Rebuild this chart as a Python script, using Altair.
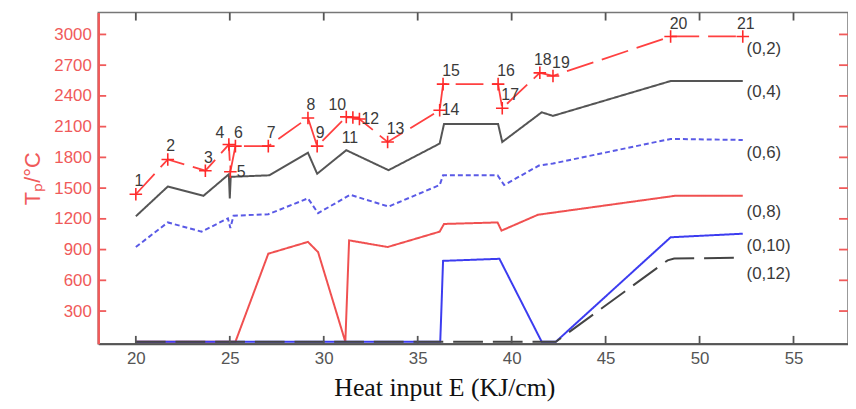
import altair as alt
import pandas as pd

# ---------------- data ----------------
x_ticks = [20, 25, 30, 35, 40, 45, 50, 55]
y_ticks = [300, 600, 900, 1200, 1500, 1800, 2100, 2400, 2700, 3000]

# (0,2) peak temperature with numbered points 1..21
tp_x = [20.0, 21.7, 23.7, 24.95, 25.03, 25.3, 27.05, 29.16, 29.65, 31.2, 31.55,
        31.9, 33.4, 36.17, 36.35, 39.28, 39.5, 41.5, 42.2, 48.46, 52.3]
tp_y = [1440, 1780, 1670, 1925, 1660, 1910, 1910, 2185, 1910, 2195, 2190,
        2175, 1950, 2260, 2515, 2515, 2280, 2625, 2595, 2980, 2980]
tp_labels = [str(i) for i in range(1, 22)]
tp_label_place = ["above", "above", "above", "above_left", "right", "above", "above",
                  "above", "above", "above_left", "below", "right", "above_right",
                  "right", "above_right", "above_right", "above_right", "above",
                  "above_right", "above_right", "above"]

s4_x = [20.0, 21.7, 23.6, 24.95, 25.0, 25.05, 27.1, 29.16, 29.65, 31.2, 33.45,
        36.17, 36.4, 39.28, 39.5, 41.6, 42.2, 48.46, 52.3]
s4_y = [1225, 1515, 1425, 1635, 1400, 1610, 1625, 1845, 1640, 1870, 1675,
        1935, 2125, 2125, 1950, 2240, 2205, 2545, 2545]

s6_x = [20.0, 21.7, 23.5, 24.9, 25.03, 25.2, 27.05, 29.16, 29.7, 31.4, 33.45,
        36.17, 36.35, 39.25, 39.6, 41.45, 42.2, 48.46, 52.3]
s6_y = [925, 1165, 1075, 1205, 1110, 1230, 1245, 1400, 1255, 1435, 1320,
        1530, 1625, 1625, 1530, 1720, 1740, 1980, 1970]

s8_x = [20.0, 25.3, 27.05, 29.16, 29.7, 31.15, 31.35, 33.4, 36.17, 36.4, 39.25,
        39.46, 41.4, 48.7, 52.3]
s8_y = [0, 0, 860, 975, 875, 0, 990, 925, 1075, 1150, 1165, 1085, 1240, 1425, 1425]

s10_x = [20.0, 36.2, 36.25, 36.35, 39.35, 41.6, 42.35, 48.46, 52.3]
s10_y = [0, 0, 255, 790, 810, 0, 0, 1020, 1055]

s12_x = [20.0, 42.35, 48.3, 48.65, 52.2]
s12_y = [0, 0, 795, 813, 820]

series_names = ["(0,2)", "(0,4)", "(0,6)", "(0,8)", "(0,10)", "(0,12)"]
series_label_x = [52.5, 52.5, 52.5, 52.5, 52.5, 52.5]
series_label_y = [2853, 2433, 1842, 1271, 932, 658]

# ---------------- styles ----------------
W, H = 756, 334
X_DOM = [18.0, 57.9]
Y_DOM = [-20, 3213]
AX_RED = "#f05a5a"
SANS = "Liberation Sans"
SERIF = "Liberation Serif"

place_offsets = {
    "above": (3, -13),
    "above_right": (8, -13),
    "above_left": (-9, -12),
    "right": (11, 0),
    "below": (-3, 21),
}

xs = alt.Scale(domain=X_DOM, nice=False, zero=False)
ys = alt.Scale(domain=Y_DOM, nice=False, zero=False)


def frame(xv, yv):
    return pd.DataFrame({"E": xv, "T": yv, "i": list(range(len(xv)))})


def line_layer(xv, yv, color, width, dash, xaxis=None, yaxis=None):
    return alt.Chart(frame(xv, yv)).mark_line(
        color=color, strokeWidth=width, strokeDash=dash
    ).encode(
        x=alt.X("E:Q", scale=xs, axis=xaxis),
        y=alt.Y("T:Q", scale=ys, axis=yaxis),
        order="i:Q",
    )


main_x_axis = alt.Axis(
    orient="bottom", values=x_ticks, tickSize=0, labelColor="#555555",
    labelFont=SANS, labelFontSize=17, labelPadding=7, domainColor="#555555",
    domainWidth=2, grid=False, title="Heat input E (KJ/cm)", titleFont=SERIF,
    titleFontSize=26, titleFontWeight="normal", titleColor="#111111",
    titleX=349, titleY=52, titleBaseline="alphabetic", titleAlign="center",
)
main_y_axis = alt.Axis(
    orient="left", values=y_ticks, tickSize=0, labelColor=AX_RED, labelFont=SANS,
    labelFontSize=17, labelPadding=7, domainColor=AX_RED, domainWidth=2.5, grid=False,
    format="d", title="Tₚ/°C", titleFont=SANS, titleFontSize=22,
    titleFontWeight="normal", titleColor=AX_RED, titlePadding=9,
)

l8 = line_layer(s8_x, s8_y, "#f05050", 2, [1, 0], main_x_axis, main_y_axis)
l10 = line_layer(s10_x, s10_y, "#3c3cf0", 2, [1, 0])
l12 = line_layer(s12_x, s12_y, "#444444", 2, [30, 10])
l6 = line_layer(s6_x, s6_y, "#5a5ae6", 2, [5, 3])
l4 = line_layer(s4_x, s4_y, "#555555", 2, [1, 0])
ltp = line_layer(tp_x, tp_y, "#ff4040", 1.8, [28, 9])

tp_df = pd.DataFrame({"E": tp_x, "T": tp_y, "i": list(range(len(tp_x))),
                      "lab": tp_labels, "place": tp_label_place})

markers = alt.Chart(tp_df).mark_point(
    shape="M-1,0H1M0,-1V1", size=160, filled=False, color="#ff2a2a", strokeWidth=1.6,
    opacity=1,
).encode(x=alt.X("E:Q", scale=xs, axis=None), y=alt.Y("T:Q", scale=ys, axis=None))

label_layers = []
for place, (dx, dy) in place_offsets.items():
    label_layers.append(
        alt.Chart(tp_df).transform_filter(alt.datum.place == place).mark_text(
            font=SANS, fontSize=16, color="#3a3a3a", dx=dx, dy=dy,
            align="center", baseline="middle",
        ).encode(
            x=alt.X("E:Q", scale=xs, axis=None),
            y=alt.Y("T:Q", scale=ys, axis=None),
            text="lab:N",
        )
    )

ser_df = pd.DataFrame({"E": series_label_x, "T": series_label_y, "name": series_names})
ser_labels = alt.Chart(ser_df).mark_text(
    font=SANS, fontSize=17, color="#3a3a3a", align="left", baseline="middle",
).encode(
    x=alt.X("E:Q", scale=xs, axis=None),
    y=alt.Y("T:Q", scale=ys, axis=None),
    text="name:N",
)

# inward-pointing axis ticks (frame decoration at the tick values)
xt_df = pd.DataFrame({"v": x_ticks})
yt_df = pd.DataFrame({"v": y_ticks})
tick_bottom = alt.Chart(xt_df).mark_rule(color="#555555", strokeWidth=1.8).encode(
    x=alt.X("v:Q", scale=xs, axis=None), y=alt.value(H - 8), y2=alt.value(H))
tick_top = alt.Chart(xt_df).mark_rule(color="#555555", strokeWidth=1.8).encode(
    x=alt.X("v:Q", scale=xs, axis=None), y=alt.value(0), y2=alt.value(8))
tick_left = alt.Chart(yt_df).mark_rule(color=AX_RED, strokeWidth=1.8).encode(
    y=alt.Y("v:Q", scale=ys, axis=None), x=alt.value(0), x2=alt.value(8))
tick_right = alt.Chart(yt_df).mark_rule(color=AX_RED, strokeWidth=1.8).encode(
    y=alt.Y("v:Q", scale=ys, axis=None), x=alt.value(W - 9), x2=alt.value(W))

chart = alt.layer(
    l8, l10, l12, l6, l4, ltp, markers, *label_layers, ser_labels,
    tick_bottom, tick_top, tick_left, tick_right,
).resolve_axis(
    x="independent", y="independent"
).properties(
    width=W, height=H,
    padding={"left": 91, "top": 3, "right": 0, "bottom": 57},
    autosize=alt.AutoSizeParams(type="none"),
).configure_view(
    stroke="#777777", strokeWidth=1.5
)

chart.save("out.html", embed_options={"renderer": "svg", "actions": False})
